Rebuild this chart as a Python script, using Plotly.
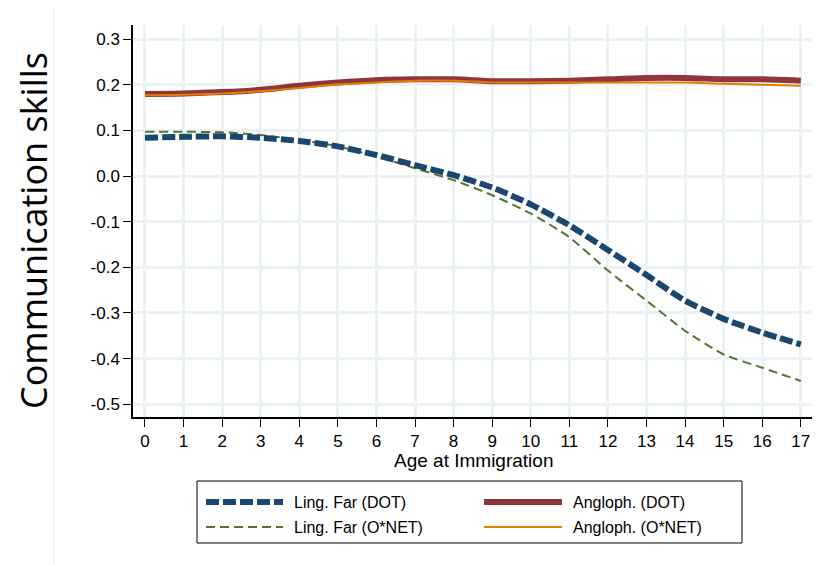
import plotly.graph_objects as go

# ---- data ----
ages = list(range(18))
ling_far_dot = [0.084, 0.086, 0.087, 0.084, 0.077, 0.065, 0.046, 0.024, 0.002, -0.025,
                -0.062, -0.108, -0.162, -0.217, -0.273, -0.313, -0.343, -0.369]
ling_far_onet = [0.097, 0.097, 0.096, 0.090, 0.079, 0.065, 0.043, 0.017, -0.009, -0.042,
                 -0.082, -0.134, -0.207, -0.273, -0.339, -0.391, -0.420, -0.449]
angloph_dot = [0.180, 0.181, 0.184, 0.189, 0.198, 0.205, 0.210, 0.212, 0.212, 0.208,
               0.208, 0.209, 0.212, 0.215, 0.215, 0.212, 0.212, 0.209]
angloph_onet = [0.177, 0.178, 0.181, 0.186, 0.193, 0.201, 0.205, 0.209, 0.209, 0.205,
                0.205, 0.205, 0.205, 0.205, 0.205, 0.202, 0.200, 0.198]

series_names = ["Ling. Far (DOT)", "Angloph. (DOT)", "Ling. Far (O*NET)", "Angloph. (O*NET)"]
y_tick_vals = [0.3, 0.2, 0.1, 0.0, -0.1, -0.2, -0.3, -0.4, -0.5]
y_tick_text = ["0.3", "0.2", "0.1", "0.0", "-0.1", "-0.2", "-0.3", "-0.4", "-0.5"]
x_tick_vals = ages

# ---- styles ----
BLUE = "#1a476f"
MAROON = "#90353b"
GREEN = "#55752f"
ORANGE = "#e37e00"
GRID = "#eaf2f3"
FONT = "Liberation Sans, Arial, sans-serif"

styles = {
    "Ling. Far (DOT)": dict(color=BLUE, width=6, dash="13px,4px"),
    "Angloph. (DOT)": dict(color=MAROON, width=6, dash="solid"),
    "Ling. Far (O*NET)": dict(color=GREEN, width=2, dash="9px,5px"),
    "Angloph. (O*NET)": dict(color=ORANGE, width=2, dash="solid"),
}

fig = go.Figure()
data_map = {
    "Ling. Far (DOT)": ling_far_dot,
    "Angloph. (DOT)": angloph_dot,
    "Ling. Far (O*NET)": ling_far_onet,
    "Angloph. (O*NET)": angloph_onet,
}
for name in ["Ling. Far (O*NET)", "Ling. Far (DOT)", "Angloph. (DOT)", "Angloph. (O*NET)"]:
    fig.add_trace(go.Scatter(x=ages, y=data_map[name], mode="lines", name=name,
                             line=dict(shape="spline", smoothing=0.6, **styles[name]),
                             showlegend=False))

# ---- layout geometry ----
# the page body has an 8px default margin, so the figure is drawn 8px smaller
OFF = 8
W, H = 820 - OFF, 565 - OFF
L, R, T, B = 133 - OFF, 8, 25 - OFF, 148
PW, PH = W - L - R, H - T - B


def px(xp):
    """reference-image x pixel -> paper coordinate"""
    return (xp - OFF - L) / PW


def py(yp):
    """reference-image y pixel -> paper coordinate"""
    return (H - B - (yp - OFF)) / PH


fig.update_layout(
    width=W, height=H,
    margin=dict(l=L, r=R, t=T, b=B, autoexpand=False),
    paper_bgcolor="white", plot_bgcolor="white",
    font=dict(family=FONT, color="black", size=16),
    xaxis=dict(range=[-0.31, 17.29], tickvals=x_tick_vals, showgrid=True, gridcolor=GRID,
               gridwidth=2.5, zeroline=False, showline=True, linecolor="black", linewidth=1.5,
               ticks="outside", ticklen=8, tickwidth=1.2, tickcolor="black",
               tickfont=dict(size=17, family=FONT)),
    yaxis=dict(range=[-0.528, 0.331], tickvals=y_tick_vals, ticktext=y_tick_text,
               showgrid=True, gridcolor=GRID, gridwidth=2.5, zeroline=False, showline=True,
               linecolor="black", linewidth=1.5, ticks="outside", ticklen=8, tickwidth=1.2,
               tickcolor="black", tickfont=dict(size=17, family=FONT)),
)

annotations = [
    dict(text="Communication skills", x=px(33), y=py(231), xref="paper", yref="paper",
         textangle=-90, showarrow=False, xanchor="center", yanchor="middle",
         font=dict(family="Open Sans, sans-serif", size=36, color="black")),
    dict(text="Age at Immigration", x=px(473), y=py(460), xref="paper", yref="paper",
         showarrow=False, xanchor="center", yanchor="middle",
         font=dict(family=FONT, size=19, color="black")),
]

shapes = [
    # faint outer region edge
    dict(type="line", xref="paper", yref="paper", x0=px(54), x1=px(54), y0=py(8), y1=py(565),
         line=dict(color="#eeeeee", width=1)),
    # legend box
    dict(type="rect", xref="paper", yref="paper", x0=px(197), x1=px(742), y0=py(481), y1=py(543),
         line=dict(color="black", width=1), fillcolor="white"),
]

legend_items = [
    ("Ling. Far (DOT)", 206, 283, 292, 502),
    ("Angloph. (DOT)", 484, 562, 571, 502),
    ("Ling. Far (O*NET)", 206, 283, 292, 527),
    ("Angloph. (O*NET)", 484, 562, 571, 527),
]
for name, sx0, sx1, tx, ly in legend_items:
    st = styles[name]
    shapes.append(dict(type="line", xref="paper", yref="paper", x0=px(sx0), x1=px(sx1),
                       y0=py(ly), y1=py(ly),
                       line=dict(color=st["color"], width=st["width"], dash=st["dash"])))
    annotations.append(dict(text=name, x=px(tx), y=py(ly), xref="paper", yref="paper",
                            showarrow=False, xanchor="left", yanchor="middle",
                            font=dict(family=FONT, size=16, color="black")))

fig.update_layout(annotations=annotations, shapes=shapes)
fig.write_html("out.html")
